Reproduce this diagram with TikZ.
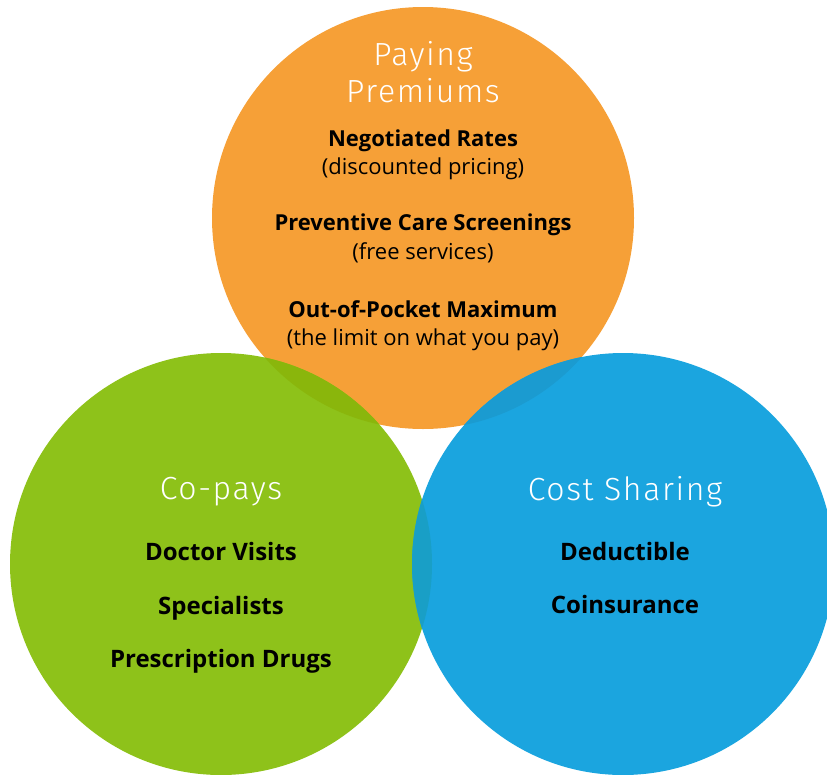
\documentclass[tikz,border=0pt]{standalone}
\usepackage{fontspec}
\setmainfont{Open Sans}
\newfontfamily\titlefont{Fira Sans Light}[LetterSpace=5]
\usepackage{xcolor}

\definecolor{premorange}{HTML}{F6A037}
\definecolor{copaygreen}{HTML}{8EC21A}
\definecolor{costblue}{HTML}{1BA5DF}
\definecolor{greenover}{HTML}{8AB60C}
\definecolor{blueover}{HTML}{1B9BD0}
\definecolor{tealover}{HTML}{199FC6}

\tikzset{
    title/.style = {anchor=base, text=white, font=\titlefont\fontsize{32}{32}\selectfont},
    item/.style  = {anchor=base, font=\bfseries\fontsize{22}{22}\selectfont},
    note/.style  = {anchor=base, font=\fontsize{22}{22}\selectfont},
    bigitem/.style = {anchor=base, font=\bfseries\fontsize{24}{24}\selectfont}
}

\begin{document}
\begin{tikzpicture}[x=1pt,y=-1pt]
        \useasboundingbox (0,0) rectangle (827,774);

        \begin{scope}[every node/.style = {circle, inner sep=0pt, minimum size=422pt}]
            \node[fill=premorange] (P) at (423,218) {};
            \node[fill=copaygreen] (G) at (221,564) {};
            \node[fill=costblue]   (B) at (623,564) {};
        \end{scope}

        % overlaps
        \begin{scope}
            \clip (423,218) circle (211);
            \fill[greenover] (221,564) circle (211);
            \fill[blueover] (623,564) circle (211);
        \end{scope}
        \begin{scope}
            \clip (221,564) circle (211);
            \fill[tealover] (623,564) circle (211);
        \end{scope}

        \node[title] (T1) at (423,65)  {Paying};
        \node[title] (T2) at (423,102) {Premiums};
        \node[title] (T3) at (221,499) {Co-pays};
        \node[title] (T4) at (625,500) {Cost Sharing};

        \node[item] (A1) at (423,146) {Negotiated Rates};
        \node[note] (A2) at (423,174) {(discounted pricing)};
        \node[item] (A3) at (423,230) {Preventive Care Screenings};
        \node[note] (A4) at (423,259) {(free services)};
        \node[item] (A5) at (423,317) {Out-of-Pocket Maximum};
        \node[note] (A6) at (423,345) {(the limit on what you pay)};

        \node[bigitem] (C1) at (221,560) {Doctor Visits};
        \node[bigitem] (C2) at (221,614) {Specialists};
        \node[bigitem] (C3) at (221,667) {Prescription Drugs};

        \node[bigitem] (D1) at (625,560) {Deductible};
        \node[bigitem] (D2) at (625,613) {Coinsurance};
    \end{tikzpicture}
\end{document}
